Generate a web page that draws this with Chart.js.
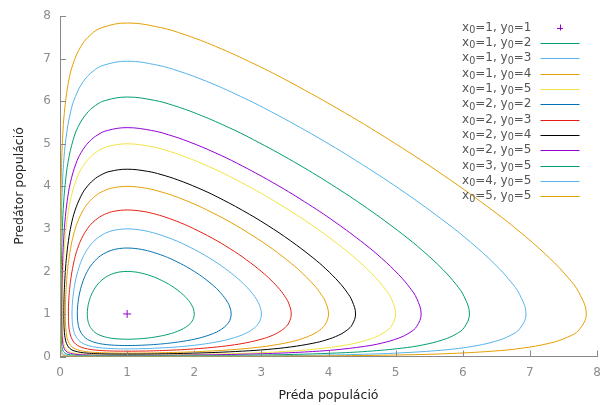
<!DOCTYPE html>
<html>
<head>
<meta charset="utf-8">
<script src="https://cdn.jsdelivr.net/npm/chart.js@4.4.1/dist/chart.umd.min.js"></script>
<style>
  html, body { margin: 0; padding: 0; background: #fff; }
  canvas { display: block; }
</style>
</head>
<body>
<canvas id="chart" width="611" height="405"></canvas>
<script>
// Lotka-Volterra orbits: [prey, predator] pairs, each loop closed
const seriesLabels = [
  'x₀=1, y₀=1', 'x₀=1, y₀=2', 'x₀=1, y₀=3', 'x₀=1, y₀=4', 'x₀=1, y₀=5', 'x₀=2, y₀=2',
  'x₀=2, y₀=3', 'x₀=2, y₀=4', 'x₀=2, y₀=5', 'x₀=3, y₀=5', 'x₀=4, y₀=5', 'x₀=5, y₀=5'
];
const seriesColors = [
  '#9400d3', '#009e73', '#56b4e9', '#e69f00', '#f0e442', '#0072b2',
  '#e51e10', '#000000', '#9400d3', '#009e73', '#56b4e9', '#e69f00'
];

const equilibrium = [[1, 1]];

const orbit12 = [[1,2],[1.115,1.988],[1.186,1.969],[1.269,1.938],[1.365,1.889],[1.445,1.840],[1.559,1.753],[1.661,1.661],[1.753,1.559],[1.840,1.445],[1.889,1.365],[1.938,1.269],[1.969,1.186],[1.988,1.115],[2,1],
  [1.988,0.893],[1.969,0.835],[1.938,0.772],[1.889,0.707],[1.840,0.658],[1.753,0.594],[1.661,0.543],[1.559,0.501],[1.445,0.466],[1.365,0.446],[1.269,0.428],[1.186,0.417],[1.115,0.411],[1,0.406],
  [0.893,0.411],[0.835,0.417],[0.772,0.428],[0.707,0.446],[0.658,0.466],[0.594,0.501],[0.543,0.543],[0.501,0.594],[0.466,0.658],[0.446,0.707],[0.428,0.772],[0.417,0.835],[0.411,0.893],[0.406,1],
  [0.411,1.115],[0.417,1.186],[0.428,1.269],[0.446,1.365],[0.466,1.445],[0.501,1.559],[0.543,1.661],[0.594,1.753],[0.658,1.840],[0.707,1.889],[0.772,1.938],[0.835,1.969],[0.893,1.988],[1,2]];
const orbit13 = [[1,3],[1.202,2.973],[1.331,2.932],[1.487,2.863],[1.671,2.758],[1.829,2.651],[2.061,2.466],[2.271,2.271],[2.466,2.061],[2.651,1.829],[2.758,1.671],[2.863,1.487],[2.932,1.331],[2.973,1.202],[3,1],
  [2.973,0.822],[2.932,0.729],[2.863,0.633],[2.758,0.538],[2.651,0.470],[2.466,0.386],[2.271,0.324],[2.061,0.276],[1.829,0.237],[1.671,0.217],[1.487,0.200],[1.331,0.189],[1.202,0.183],[1,0.179],
  [0.822,0.183],[0.729,0.189],[0.633,0.200],[0.538,0.217],[0.470,0.237],[0.386,0.276],[0.324,0.324],[0.276,0.386],[0.237,0.470],[0.217,0.538],[0.200,0.633],[0.189,0.729],[0.183,0.822],[0.179,1],
  [0.183,1.202],[0.189,1.331],[0.200,1.487],[0.217,1.671],[0.237,1.829],[0.276,2.061],[0.324,2.271],[0.386,2.466],[0.470,2.651],[0.538,2.758],[0.633,2.863],[0.729,2.932],[0.822,2.973],[1,3]];
const orbit14 = [[1,4],[1.276,3.957],[1.457,3.892],[1.680,3.783],[1.951,3.617],[2.185,3.448],[2.536,3.159],[2.856,2.856],[3.159,2.536],[3.448,2.185],[3.617,1.951],[3.783,1.680],[3.892,1.457],[3.957,1.276],[4,1],
  [3.957,0.767],[3.892,0.650],[3.783,0.534],[3.617,0.424],[3.448,0.348],[3.159,0.261],[2.856,0.201],[2.536,0.157],[2.185,0.124],[1.951,0.108],[1.680,0.095],[1.457,0.087],[1.276,0.082],[1,0.079],
  [0.767,0.082],[0.650,0.087],[0.534,0.095],[0.424,0.108],[0.348,0.124],[0.261,0.157],[0.201,0.201],[0.157,0.261],[0.124,0.348],[0.108,0.424],[0.095,0.534],[0.087,0.650],[0.082,0.767],[0.079,1],
  [0.082,1.276],[0.087,1.457],[0.095,1.680],[0.108,1.951],[0.124,2.185],[0.157,2.536],[0.201,2.856],[0.261,3.159],[0.348,3.448],[0.424,3.617],[0.534,3.783],[0.650,3.892],[0.767,3.957],[1,4]];
const orbit15 = [[1,5],[1.342,4.940],[1.572,4.850],[1.859,4.699],[2.212,4.470],[2.523,4.237],[2.993,3.839],[3.427,3.427],[3.839,2.993],[4.237,2.523],[4.470,2.212],[4.699,1.859],[4.850,1.572],[4.940,1.342],[5,1],
  [4.940,0.722],[4.850,0.587],[4.699,0.458],[4.470,0.340],[4.237,0.263],[3.839,0.180],[3.427,0.126],[2.993,0.090],[2.523,0.065],[2.212,0.054],[1.859,0.045],[1.572,0.040],[1.342,0.037],[1,0.035],
  [0.722,0.037],[0.587,0.040],[0.458,0.045],[0.340,0.054],[0.263,0.065],[0.180,0.090],[0.126,0.126],[0.090,0.180],[0.065,0.263],[0.054,0.340],[0.045,0.458],[0.040,0.587],[0.037,0.722],[0.035,1],
  [0.037,1.342],[0.040,1.572],[0.045,1.859],[0.054,2.212],[0.065,2.523],[0.090,2.993],[0.126,3.427],[0.180,3.839],[0.263,4.237],[0.340,4.470],[0.458,4.699],[0.587,4.850],[0.722,4.940],[1,5]];
const orbit22 = [[1,2.550],[1.165,2.530],[1.269,2.499],[1.392,2.447],[1.538,2.369],[1.661,2.288],[1.840,2.148],[2,2],[2.148,1.840],[2.288,1.661],[2.369,1.538],[2.447,1.392],[2.499,1.269],[2.530,1.165],[2.550,1],
  [2.530,0.851],[2.499,0.772],[2.447,0.689],[2.369,0.605],[2.288,0.543],[2.148,0.466],[2,0.406],[1.840,0.359],[1.661,0.320],[1.538,0.299],[1.392,0.280],[1.269,0.269],[1.165,0.262],[1,0.258],
  [0.851,0.262],[0.772,0.269],[0.689,0.280],[0.605,0.299],[0.543,0.320],[0.466,0.359],[0.406,0.406],[0.359,0.466],[0.320,0.543],[0.299,0.605],[0.280,0.689],[0.269,0.772],[0.262,0.851],[0.258,1],
  [0.262,1.165],[0.269,1.269],[0.280,1.392],[0.299,1.538],[0.320,1.661],[0.359,1.840],[0.406,2],[0.466,2.148],[0.543,2.288],[0.605,2.369],[0.689,2.447],[0.772,2.499],[0.851,2.530],[1,2.550]];
const orbit23 = [[1,3.445],[1.236,3.411],[1.389,3.360],[1.575,3.273],[1.798,3.142],[1.990,3.007],[2.275,2.776],[2.534,2.534],[2.776,2.275],[3.007,1.990],[3.142,1.798],[3.273,1.575],[3.360,1.389],[3.411,1.236],[3.445,1],
  [3.411,0.796],[3.360,0.691],[3.273,0.586],[3.142,0.482],[3.007,0.410],[2.776,0.323],[2.534,0.261],[2.275,0.214],[1.990,0.178],[1.798,0.159],[1.575,0.143],[1.389,0.133],[1.236,0.128],[1,0.125],
  [0.796,0.128],[0.691,0.133],[0.586,0.143],[0.482,0.159],[0.410,0.178],[0.323,0.214],[0.261,0.261],[0.214,0.323],[0.178,0.410],[0.159,0.482],[0.143,0.586],[0.133,0.691],[0.128,0.796],[0.125,1],
  [0.128,1.236],[0.133,1.389],[0.143,1.575],[0.159,1.798],[0.178,1.990],[0.214,2.275],[0.261,2.534],[0.323,2.776],[0.410,3.007],[0.482,3.142],[0.586,3.273],[0.691,3.360],[0.796,3.411],[1,3.445]];
const orbit24 = [[1,4.403],[1.303,4.353],[1.505,4.278],[1.754,4.152],[2.058,3.961],[2.323,3.767],[2.721,3.434],[3.088,3.088],[3.434,2.721],[3.767,2.323],[3.961,2.058],[4.152,1.754],[4.278,1.505],[4.353,1.303],[4.403,1],
  [4.353,0.748],[4.278,0.623],[4.152,0.501],[3.961,0.387],[3.767,0.311],[3.434,0.224],[3.088,0.166],[2.721,0.126],[2.323,0.096],[2.058,0.082],[1.754,0.070],[1.505,0.063],[1.303,0.059],[1,0.057],
  [0.748,0.059],[0.623,0.063],[0.501,0.070],[0.387,0.082],[0.311,0.096],[0.224,0.126],[0.166,0.166],[0.126,0.224],[0.096,0.311],[0.082,0.387],[0.070,0.501],[0.063,0.623],[0.059,0.748],[0.057,1],
  [0.059,1.303],[0.063,1.505],[0.070,1.754],[0.082,2.058],[0.096,2.323],[0.126,2.721],[0.166,3.088],[0.224,3.434],[0.311,3.767],[0.387,3.961],[0.501,4.152],[0.623,4.278],[0.748,4.353],[1,4.403]];
const orbit25 = [[1,5.380],[1.365,5.314],[1.613,5.214],[1.924,5.046],[2.309,4.792],[2.648,4.535],[3.163,4.096],[3.641,3.641],[4.096,3.163],[4.535,2.648],[4.792,2.309],[5.046,1.924],[5.214,1.613],[5.314,1.365],[5.380,1],
  [5.314,0.707],[5.214,0.566],[5.046,0.433],[4.792,0.314],[4.535,0.238],[4.096,0.156],[3.641,0.106],[3.163,0.073],[2.648,0.051],[2.309,0.041],[1.924,0.034],[1.613,0.029],[1.365,0.027],[1,0.025],
  [0.707,0.027],[0.566,0.029],[0.433,0.034],[0.314,0.041],[0.238,0.051],[0.156,0.073],[0.106,0.106],[0.073,0.156],[0.051,0.238],[0.041,0.314],[0.034,0.433],[0.029,0.566],[0.027,0.707],[0.025,1],
  [0.027,1.365],[0.029,1.613],[0.034,1.924],[0.041,2.309],[0.051,2.648],[0.073,3.163],[0.106,3.641],[0.156,4.096],[0.238,4.535],[0.314,4.792],[0.433,5.046],[0.566,5.214],[0.707,5.314],[1,5.380]];
const orbit35 = [[1,6.100],[1.408,6.021],[1.688,5.903],[2.044,5.704],[2.487,5.403],[2.881,5.098],[3.482,4.579],[4.043,4.043],[4.579,3.482],[5.098,2.881],[5.403,2.487],[5.704,2.044],[5.903,1.688],[6.021,1.408],[6.100,1],
  [6.021,0.680],[5.903,0.530],[5.704,0.392],[5.403,0.271],[5.098,0.197],[4.579,0.121],[4.043,0.077],[3.482,0.049],[2.881,0.032],[2.487,0.025],[2.044,0.019],[1.688,0.016],[1.408,0.015],[1,0.014],
  [0.680,0.015],[0.530,0.016],[0.392,0.019],[0.271,0.025],[0.197,0.032],[0.121,0.049],[0.077,0.077],[0.049,0.121],[0.032,0.197],[0.025,0.271],[0.019,0.392],[0.016,0.530],[0.015,0.680],[0.014,1],
  [0.015,1.408],[0.016,1.688],[0.019,2.044],[0.025,2.487],[0.032,2.881],[0.049,3.482],[0.077,4.043],[0.121,4.579],[0.197,5.098],[0.271,5.403],[0.392,5.704],[0.530,5.903],[0.680,6.021],[1,6.100]];
const orbit45 = [[1,6.942],[1.455,6.848],[1.773,6.707],[2.180,6.471],[2.691,6.114],[3.148,5.753],[3.850,5.140],[4.508,4.508],[5.140,3.850],[5.753,3.148],[6.114,2.691],[6.471,2.180],[6.707,1.773],[6.848,1.455],[6.942,1],
  [6.848,0.651],[6.707,0.493],[6.471,0.350],[6.114,0.230],[5.753,0.158],[5.140,0.090],[4.508,0.052],[3.850,0.031],[3.148,0.019],[2.691,0.014],[2.180,0.010],[1.773,0.008],[1.455,0.0073],[1,0.0068],
  [0.651,0.0073],[0.493,0.008],[0.350,0.010],[0.230,0.014],[0.158,0.019],[0.090,0.031],[0.052,0.052],[0.031,0.090],[0.019,0.158],[0.014,0.230],[0.010,0.350],[0.008,0.493],[0.0073,0.651],[0.0068,1],
  [0.0073,1.455],[0.008,1.773],[0.010,2.180],[0.014,2.691],[0.019,3.148],[0.031,3.850],[0.052,4.508],[0.090,5.140],[0.158,5.753],[0.230,6.114],[0.350,6.471],[0.493,6.707],[0.651,6.848],[1,6.942]];
const orbit55 = [[1,7.840],[1.503,7.731],[1.859,7.566],[2.320,7.289],[2.902,6.872],[3.427,6.450],[4.237,5.735],[5,5],[5.735,4.237],[6.450,3.427],[6.872,2.902],[7.289,2.320],[7.566,1.859],[7.731,1.503],[7.840,1],
  [7.731,0.624],[7.566,0.458],[7.289,0.311],[6.872,0.193],[6.450,0.126],[5.735,0.065],[5,0.035],[4.237,0.019],[3.427,0.010],[2.902,0.007],[2.320,0.005],[1.859,0.004],[1.503,0.0034],[1,0.0031],
  [0.624,0.0034],[0.458,0.004],[0.311,0.005],[0.193,0.007],[0.126,0.010],[0.065,0.019],[0.035,0.035],[0.019,0.065],[0.010,0.126],[0.007,0.193],[0.005,0.311],[0.004,0.458],[0.0034,0.624],[0.0031,1],
  [0.0034,1.503],[0.004,1.859],[0.005,2.320],[0.007,2.902],[0.010,3.427],[0.019,4.237],[0.035,5],[0.065,5.735],[0.126,6.450],[0.193,6.872],[0.311,7.289],[0.458,7.566],[0.624,7.731],[1,7.840]];

const orbits = [orbit12, orbit13, orbit14, orbit15, orbit22, orbit23, orbit24, orbit25, orbit35, orbit45, orbit55];

const FONT = 'DejaVu Sans';
const toXY = pts => pts.map(([x, y]) => ({ x, y }));

const datasets = [{
  label: seriesLabels[0],
  data: toXY(equilibrium),
  showLine: false,
  pointStyle: 'cross',
  pointRadius: 4,
  borderColor: seriesColors[0],
  borderWidth: 1,
  order: 0
}];

orbits.forEach((pts, i) => {
  // pad with the neighbours across the seam so the spline closes smoothly
  const padded = [pts[pts.length - 2], ...pts, pts[1]];
  const last = padded.length - 1;
  datasets.push({
    label: seriesLabels[i + 1],
    data: toXY(padded),
    pointRadius: 0,
    borderColor: seriesColors[i + 1],
    borderWidth: 1,
    tension: 0.4,
    cubicInterpolationMode: 'default',
    fill: false,
    order: -(i + 1),
    segment: {
      borderColor: c => (c.p0DataIndex === 0 || c.p1DataIndex === last) ? 'rgba(0,0,0,0)' : undefined
    }
  });
});

function subText(ctx, text, xRight, y, size) {
  // draw text with "₀" as a lowered, smaller 0 (gnuplot-style), right aligned
  const parts = text.split('₀');
  const pieces = [];
  parts.forEach((p, k) => {
    if (p) pieces.push({ t: p, f: size + 'px ' + FONT, dy: 0 });
    if (k < parts.length - 1) pieces.push({ t: '0', f: (size * 0.8) + 'px ' + FONT, dy: 3 });
  });
  let w = 0;
  pieces.forEach(pc => { ctx.font = pc.f; pc.w = ctx.measureText(pc.t).width; w += pc.w; });
  let x = xRight - w;
  pieces.forEach(pc => { ctx.font = pc.f; ctx.fillText(pc.t, x, y + pc.dy); x += pc.w; });
}

const frame = {
  id: 'frame',
  afterDatasetsDraw(chart) {
    const { ctx, chartArea: a, scales: { x, y } } = chart;
    ctx.save();
    // inward tick marks
    ctx.strokeStyle = '#888';
    ctx.lineWidth = 1;
    ctx.beginPath();
    x.ticks.forEach(t => {
      const px = Math.round(x.getPixelForValue(t.value)) + 0.5;
      ctx.moveTo(px, a.bottom); ctx.lineTo(px, a.bottom - 6);
    });
    y.ticks.forEach(t => {
      const py = Math.round(y.getPixelForValue(t.value)) + 0.5;
      ctx.moveTo(a.left, py); ctx.lineTo(a.left + 6, py);
    });
    ctx.stroke();

    // axis titles
    ctx.fillStyle = '#222';
    ctx.font = '12.5px ' + FONT;
    ctx.textAlign = 'center';
    ctx.textBaseline = 'middle';
    ctx.fillText('Préda populáció', (a.left + a.right) / 2, 396);
    ctx.save();
    ctx.translate(20, 186);
    ctx.rotate(-Math.PI / 2);
    ctx.fillText('Predátor populáció', 0, 0);
    ctx.restore();

    // key
    ctx.textAlign = 'left';
    chart.data.datasets.forEach((ds, i) => {
      const ry = 27.5 + i * 15.34;
      ctx.fillStyle = '#555';
      subText(ctx, ds.label, 531.5, ry, 12);
      ctx.strokeStyle = ds.borderColor;
      ctx.beginPath();
      if (i === 0) {
        ctx.moveTo(557, Math.round(ry) + 0.5); ctx.lineTo(563, Math.round(ry) + 0.5);
        ctx.moveTo(560.5, ry - 3); ctx.lineTo(560.5, ry + 3);
      } else {
        ctx.moveTo(540.5, Math.round(ry) + 0.5); ctx.lineTo(579.5, Math.round(ry) + 0.5);
      }
      ctx.stroke();
    });
    ctx.restore();
  }
};

const axisCommon = {
  type: 'linear',
  min: 0,
  max: 8,
  border: { color: '#888', width: 1 },
  grid: { drawOnChartArea: false, drawTicks: false },
  ticks: { stepSize: 1, color: '#8c8c8c', padding: 9, font: { family: FONT, size: 12 } }
};

new Chart(document.getElementById('chart'), {
  type: 'line',
  data: { datasets },
  options: {
    responsive: false,
    animation: false,
    layout: { padding: { left: 0, right: 14, top: 14, bottom: 0 } },
    plugins: { legend: { display: false }, tooltip: { enabled: false } },
    scales: {
      x: { ...axisCommon, afterFit: s => { s.height = 48.5; } },
      y: { ...axisCommon, afterFit: s => { s.width = 60; } }
    }
  },
  plugins: [frame]
});
</script>
</body>
</html>
